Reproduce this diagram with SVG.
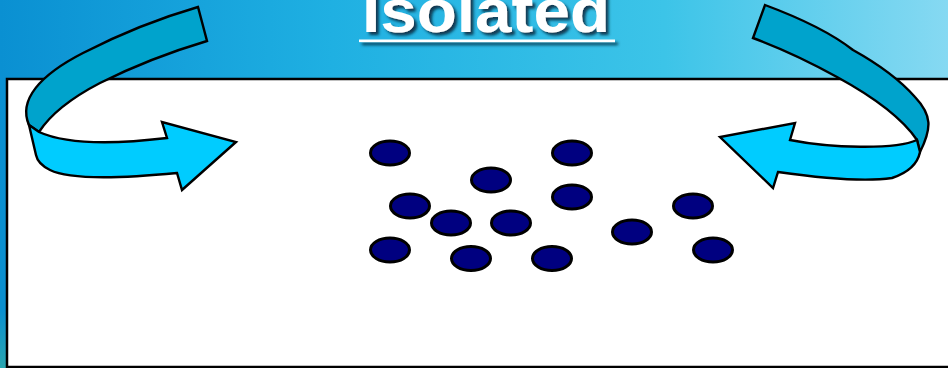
<svg xmlns="http://www.w3.org/2000/svg" width="948" height="368" viewBox="0 0 948 368">
<defs>
<linearGradient id="bg" x1="0" y1="0" x2="1" y2="0">
<stop offset="0" stop-color="#0a90d2"/>
<stop offset="0.35" stop-color="#1fb0e2"/>
<stop offset="0.7" stop-color="#3cc4e8"/>
<stop offset="1" stop-color="#86d9f2"/>
</linearGradient>
<linearGradient id="strip" x1="0" y1="0" x2="0" y2="1">
<stop offset="0" stop-color="#0a90d2"/>
<stop offset="0.8" stop-color="#0a8fcf"/>
<stop offset="1" stop-color="#2aa6b0"/>
</linearGradient>
<filter id="sh" x="-10%" y="-20%" width="130%" height="160%">
<feGaussianBlur in="SourceAlpha" stdDeviation="1.5"/>
<feOffset dx="3" dy="3" result="b"/>
<feFlood flood-color="#0a2a40" flood-opacity="0.9"/>
<feComposite in2="b" operator="in"/>
<feMerge><feMergeNode/><feMergeNode in="SourceGraphic"/></feMerge>
</filter>
</defs>
<style>
.dot{fill:#000080;stroke:#000;stroke-width:3}
.band{fill:#00a3cc;stroke:#000;stroke-width:2.4;stroke-linejoin:miter}
.head{fill:#00ccff;stroke:#000;stroke-width:2.4;stroke-linejoin:miter}
.title{font-family:"Liberation Sans",Arial,sans-serif;font-weight:bold;font-size:62px;fill:#fff}
</style>
<rect x="0" y="0" width="948" height="368" fill="url(#bg)"/>
<rect x="0" y="79" width="8" height="289" fill="url(#strip)"/>
<rect x="7" y="79" width="950" height="288" fill="#fff" stroke="#000" stroke-width="2.5"/>
<g id="title" filter="url(#sh)">
<text class="title" x="486" y="32" text-anchor="middle" textLength="248" lengthAdjust="spacingAndGlyphs">Isolated</text>
<rect x="359" y="39.5" width="256" height="2.6" fill="#fff"/>
</g>
<g id="arrow-left">
<path class="band" d="M29,125 C18,100 40,75 83,53 C120,34 160,18 198,7 L207,41 C170,52 130,68 100,83 C75,96 52,112 39,132 Z"/>
<path class="head" d="M39,132 C70,146 125,143 167,138 L162,122 L236,142 L182,190 L177,173 C125,178 70,180 50,170 C40,165 37,160 36,155 L29,125 Z"/>
</g>
<g id="arrow-right">
<path class="band" d="M765,5 C800,18 830,32 853,50 C880,65 900,80 915,97 C932,115 932,128 920,152 L917,140 C900,115 870,95 837,77 C810,62 780,48 753,38 Z"/>
<path class="head" d="M917,140 C895,150 830,148 790,140 L795,123 L720,137 L773,188 L778,172 C820,178 865,182 892,178 C910,172 918,162 920,152 Z"/>
</g>
<g id="particles">
<g id="p1"><ellipse class="dot" cx="390" cy="153" rx="19.5" ry="12"/></g>
<g id="p2"><ellipse class="dot" cx="572" cy="153" rx="19.5" ry="12"/></g>
<g id="p3"><ellipse class="dot" cx="491" cy="180" rx="19.5" ry="12"/></g>
<g id="p4"><ellipse class="dot" cx="572" cy="197" rx="19.5" ry="12"/></g>
<g id="p5"><ellipse class="dot" cx="410" cy="206" rx="19.5" ry="12"/></g>
<g id="p6"><ellipse class="dot" cx="693" cy="206" rx="19.5" ry="12"/></g>
<g id="p7"><ellipse class="dot" cx="451" cy="223" rx="19.5" ry="12"/></g>
<g id="p8"><ellipse class="dot" cx="511" cy="223" rx="19.5" ry="12"/></g>
<g id="p9"><ellipse class="dot" cx="632" cy="232" rx="19.5" ry="12"/></g>
<g id="p10"><ellipse class="dot" cx="390" cy="250" rx="19.5" ry="12"/></g>
<g id="p11"><ellipse class="dot" cx="471" cy="258.5" rx="19.5" ry="12"/></g>
<g id="p12"><ellipse class="dot" cx="552" cy="258.5" rx="19.5" ry="12"/></g>
<g id="p13"><ellipse class="dot" cx="713" cy="250" rx="19.5" ry="12"/></g>
</g>
</svg>
